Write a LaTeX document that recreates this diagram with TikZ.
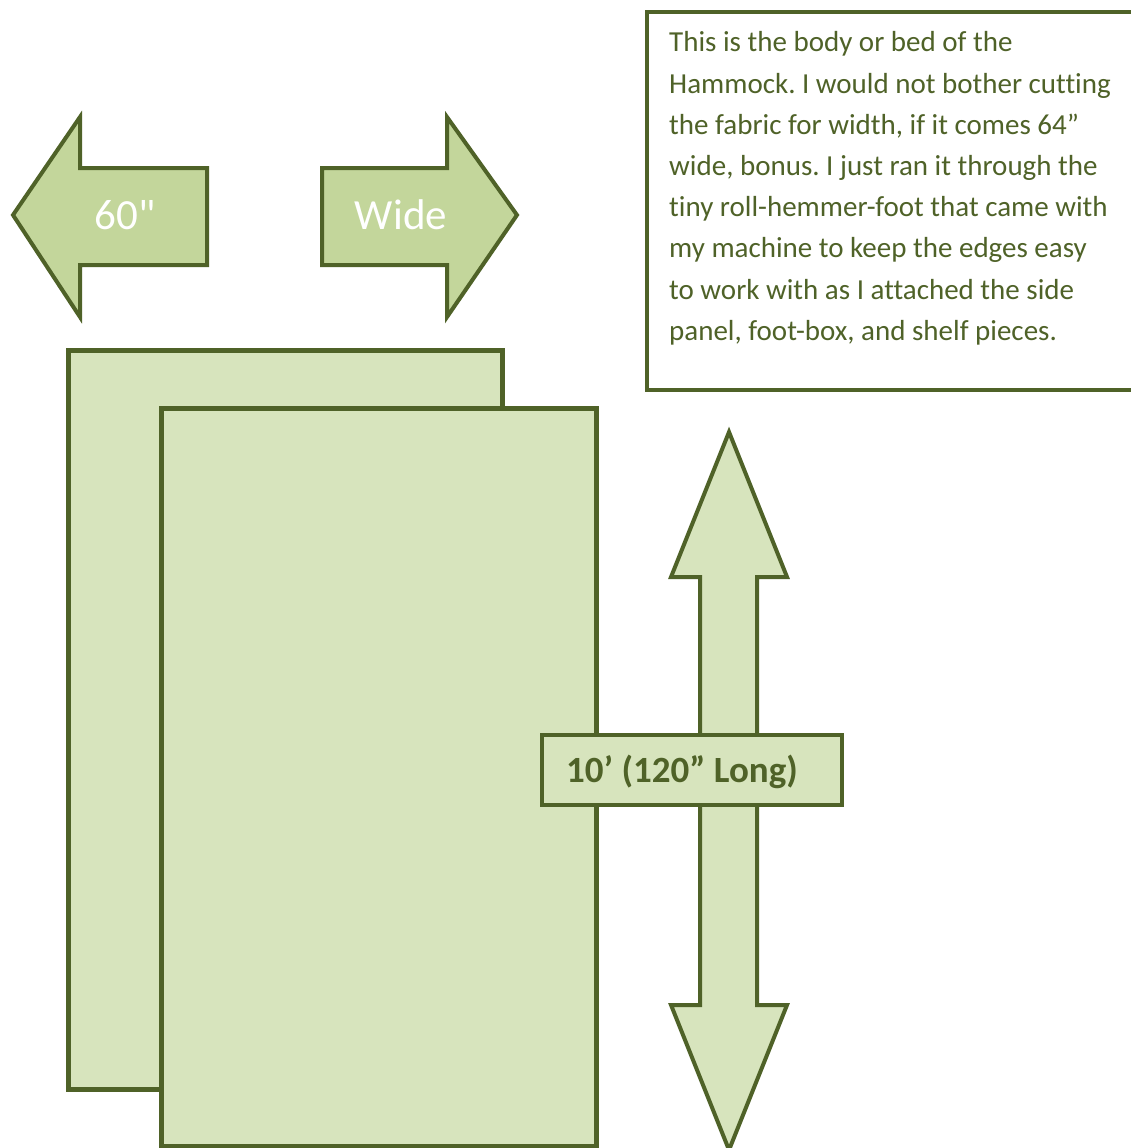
\documentclass[tikz,border=0pt]{standalone}
\usepackage{fontspec}
\setmainfont{Carlito}[Ligatures=NoCommon]
\newfontfamily\rawfont{Carlito}[Ligatures={TeXOff,NoCommon}]
\frenchspacing
\definecolor{olivedark}{HTML}{4F6228}
\definecolor{olivelight}{HTML}{D7E4BD}
\definecolor{olivemid}{HTML}{C3D69B}
\tikzset{
  sheet/.style={draw=olivedark, fill=olivelight, line width=5pt, line join=miter},
  bigarrow/.style={draw=olivedark, fill=olivemid, line width=4pt, line join=miter},
  longarrow/.style={draw=olivedark, fill=olivelight, line width=4pt, line join=miter},
  arrowlabel/.style={text=white, font=\rawfont\fontsize{43}{50}\selectfont, inner sep=0pt},
  notebox/.style={draw=olivedark, fill=white, line width=4pt},
}
\begin{document}
\begin{tikzpicture}[x=1pt,y=-1pt]
\useasboundingbox (0,0) rectangle (1131,1148);
% left arrow (60")
\draw[bigarrow] (13,215) -- (80,117) -- (80,168) -- (207,168) -- (207,265) -- (80,265) -- (80,317) -- cycle;
\node[arrowlabel] (sixty) at (125,215) {60"};
% right arrow (Wide)
\draw[bigarrow] (517,215) -- (447,117) -- (447,168) -- (322,168) -- (322,265) -- (447,265) -- (447,317) -- cycle;
\node[arrowlabel] (wide) at (401,215) {Wide};
% note box
\draw[notebox] (1140,12) -- (647,12) -- (647,390) -- (1140,390);
\node[anchor=base west, inner sep=0pt, text=olivedark] (note) at (669,52)
  {\parbox[t]{470pt}{\raggedright\frenchspacing\fontsize{29}{41.2}\selectfont
  This is the body or bed of the\\
  Hammock. I would not bother cutting\\
  the fabric for width, if it comes 64”\\
  wide, bonus. I just ran it through the\\
  tiny roll-hemmer-foot that came with\\
  my machine to keep the edges easy\\
  to work with as I attached the side\\
  panel, foot-box, and shelf pieces.}};
% fabric sheets
\draw[sheet] (68,350) rectangle (502,1089);
\draw[sheet] (161,408) rectangle (596,1146);
% long vertical double arrow
\draw[longarrow] (729,432) -- (787,577) -- (757,577) -- (757,1005) -- (787,1005) -- (729,1150)
  -- (671,1005) -- (700,1005) -- (700,577) -- (671,577) -- cycle;
% length label
\draw[longarrow] (542,735) rectangle (842,805);
\node[anchor=base west, inner sep=0pt, text=olivedark, font=\bfseries\fontsize{37}{44}\selectfont] (len) at (566,782) {10’ (120” Long)};
\end{tikzpicture}
\end{document}
